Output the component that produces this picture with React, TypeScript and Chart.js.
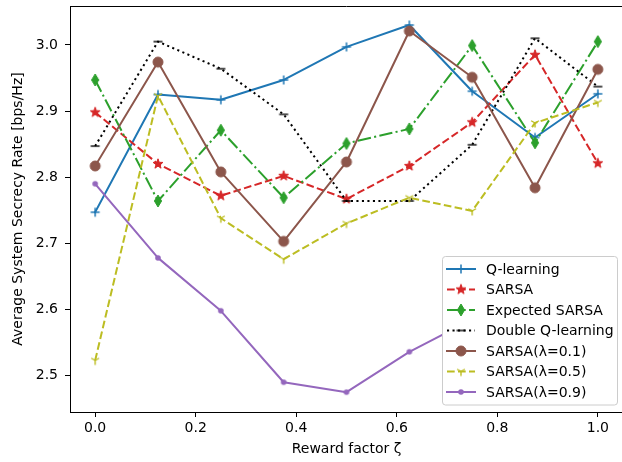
import React, { useEffect, useRef } from "react";
import { Chart, registerables } from "chart.js";

Chart.register(...registerables);

const rewardFactors = [0, 0.125, 0.25, 0.375, 0.5, 0.625, 0.75, 0.875, 1.0];
const qLearning = [2.747, 2.925, 2.917, 2.947, 2.997, 3.030, 2.930, 2.860, 2.926];
const sarsa = [2.898, 2.820, 2.772, 2.802, 2.767, 2.817, 2.883, 2.985, 2.821];
const expectedSarsa = [2.947, 2.764, 2.871, 2.769, 2.851, 2.873, 2.999, 2.852, 3.005];
const doubleQ = [2.847, 3.005, 2.964, 2.895, 2.764, 2.764, 2.849, 3.010, 2.937];
const sarsaL01 = [2.817, 2.974, 2.808, 2.703, 2.823, 3.021, 2.951, 2.784, 2.963];
const sarsaL05 = [2.523, 2.923, 2.738, 2.676, 2.730, 2.769, 2.749, 2.882, 2.913];
const sarsaL09 = [2.790, 2.678, 2.598, 2.490, 2.475, 2.536, 2.585, 2.610, 2.630];

const seriesNames = [
  "Q-learning",
  "SARSA",
  "Expected SARSA",
  "Double Q-learning",
  "SARSA(λ=0.1)",
  "SARSA(λ=0.5)",
  "SARSA(λ=0.9)",
];
const yTickValues = [2.5, 2.6, 2.7, 2.8, 2.9, 3.0];
const xTickValues = [0, 0.2, 0.4, 0.6, 0.8, 1.0];

const FONT = "'DejaVu Sans', sans-serif";
const CW = 632;
const CH = 462;

function makeMarker(draw: (ctx: CanvasRenderingContext2D) => void) {
  const c = document.createElement("canvas");
  c.width = 20;
  c.height = 20;
  const ctx = c.getContext("2d")!;
  ctx.translate(10, 10);
  draw(ctx);
  return c;
}

function buildMarkers() {
  const plus = makeMarker((ctx) => {
    ctx.strokeStyle = "#1f77b4";
    ctx.lineWidth = 1.5;
    ctx.beginPath();
    ctx.moveTo(-4.5, 0);
    ctx.lineTo(4.5, 0);
    ctx.moveTo(0, -4.5);
    ctx.lineTo(0, 4.5);
    ctx.stroke();
  });
  const star = makeMarker((ctx) => {
    ctx.fillStyle = "#d62728";
    ctx.strokeStyle = "#d62728";
    ctx.lineWidth = 1;
    ctx.beginPath();
    for (let i = 0; i < 10; i++) {
      const r = i % 2 === 0 ? 5.2 : 2.1;
      const a = -Math.PI / 2 + (i * Math.PI) / 5;
      const px = r * Math.cos(a);
      const py = r * Math.sin(a);
      if (i === 0) ctx.moveTo(px, py);
      else ctx.lineTo(px, py);
    }
    ctx.closePath();
    ctx.fill();
    ctx.stroke();
  });
  const diamond = makeMarker((ctx) => {
    ctx.fillStyle = "#2ca02c";
    ctx.strokeStyle = "#2ca02c";
    ctx.lineWidth = 1;
    ctx.beginPath();
    ctx.moveTo(0, -6);
    ctx.lineTo(3.6, 0);
    ctx.lineTo(0, 6);
    ctx.lineTo(-3.6, 0);
    ctx.closePath();
    ctx.fill();
    ctx.stroke();
  });
  const hline = makeMarker((ctx) => {
    ctx.strokeStyle = "#000000";
    ctx.lineWidth = 1.4;
    ctx.beginPath();
    ctx.moveTo(-4.5, 0);
    ctx.lineTo(4.5, 0);
    ctx.stroke();
  });
  const circle = makeMarker((ctx) => {
    ctx.fillStyle = "#8c564b";
    ctx.strokeStyle = "#8c564b";
    ctx.lineWidth = 1;
    ctx.beginPath();
    ctx.arc(0, 0, 5, 0, Math.PI * 2);
    ctx.fill();
    ctx.stroke();
  });
  const triDown = makeMarker((ctx) => {
    ctx.strokeStyle = "#bcbd22";
    ctx.lineWidth = 1.4;
    ctx.beginPath();
    ctx.moveTo(0, 0);
    ctx.lineTo(0, 4.5);
    ctx.moveTo(0, 0);
    ctx.lineTo(-3.9, -2.25);
    ctx.moveTo(0, 0);
    ctx.lineTo(3.9, -2.25);
    ctx.stroke();
  });
  const dot = makeMarker((ctx) => {
    ctx.fillStyle = "#9467bd";
    ctx.beginPath();
    ctx.arc(0, 0, 2.8, 0, Math.PI * 2);
    ctx.fill();
  });
  return [plus, star, diamond, hline, circle, triDown, dot];
}

export default function App() {
  const ref = useRef<HTMLCanvasElement | null>(null);

  useEffect(() => {
    document.body.style.margin = "0";
    document.body.style.overflow = "hidden";
    const markers = buildMarkers();
    const allValues = [qLearning, sarsa, expectedSarsa, doubleQ, sarsaL01, sarsaL05, sarsaL09];
    const colors = ["#1f77b4", "#d62728", "#2ca02c", "#000000", "#8c564b", "#bcbd22", "#9467bd"];
    const dashes: number[][] = [
      [],
      [7.7, 3.3],
      [13.3, 3.3, 2.1, 3.3],
      [2.1, 3.4],
      [],
      [7.7, 3.3],
      [],
    ];

    const datasets = allValues.map((vals, i) => ({
      label: seriesNames[i],
      data: vals.map((v, j) => ({ x: rewardFactors[j], y: v })),
      borderColor: colors[i],
      backgroundColor: colors[i],
      borderWidth: 2,
      borderDash: dashes[i],
      borderCapStyle: dashes[i].length ? "butt" : "square",
      borderJoinStyle: "round",
      pointStyle: markers[i],
      pointRadius: 4,
      pointHoverRadius: 4,
      tension: 0,
      order: 10 - i,
      clip: 2,
    }));

    const framePlugin = {
      id: "frameAndLegend",
      afterDraw(chart: any) {
        const { ctx, chartArea } = chart;
        ctx.save();
        ctx.strokeStyle = "#000";
        ctx.lineWidth = 1;
        ctx.beginPath();
        ctx.moveTo(chartArea.left, chartArea.top + 0.5);
        ctx.lineTo(chartArea.right, chartArea.top + 0.5);
        ctx.lineTo(chartArea.right - 0.5, chartArea.bottom);
        ctx.stroke();

        // legend
        const bx = 442.5;
        const by = 256.5;
        const bw = 175;
        const bh = 148.5;
        const r = 3;
        ctx.beginPath();
        ctx.moveTo(bx + r, by);
        ctx.lineTo(bx + bw - r, by);
        ctx.arcTo(bx + bw, by, bx + bw, by + r, r);
        ctx.lineTo(bx + bw, by + bh - r);
        ctx.arcTo(bx + bw, by + bh, bx + bw - r, by + bh, r);
        ctx.lineTo(bx + r, by + bh);
        ctx.arcTo(bx, by + bh, bx, by + bh - r, r);
        ctx.lineTo(bx, by + r);
        ctx.arcTo(bx, by, bx + r, by, r);
        ctx.closePath();
        ctx.fillStyle = "#ffffff";
        ctx.fill();
        ctx.strokeStyle = "#cccccc";
        ctx.lineWidth = 1;
        ctx.stroke();

        ctx.font = "14px " + FONT;
        ctx.textBaseline = "middle";
        ctx.textAlign = "left";
        for (let i = 0; i < seriesNames.length; i++) {
          const y = 269 + i * 20.5;
          ctx.save();
          ctx.strokeStyle = colors[i];
          ctx.lineWidth = 2;
          ctx.setLineDash(dashes[i]);
          ctx.lineCap = dashes[i].length ? "butt" : "square";
          ctx.beginPath();
          ctx.moveTo(447, y);
          ctx.lineTo(475, y);
          ctx.stroke();
          ctx.restore();
          ctx.drawImage(markers[i], 461 - 10, y - 10);
          ctx.fillStyle = "#000";
          ctx.fillText(seriesNames[i], 486, y + 1);
        }
        ctx.restore();
      },
    };

    const chart = new Chart(ref.current!, {
      type: "line",
      data: { datasets: datasets as any },
      plugins: [framePlugin],
      options: {
        animation: false,
        responsive: false,
        devicePixelRatio: 1,
        layout: { padding: { left: 0, top: 5, right: CW - 623, bottom: 0 } },
        plugins: { legend: { display: false }, tooltip: { enabled: false } },
        scales: {
          x: {
            type: "linear",
            min: -0.05,
            max: 1.05,
            afterBuildTicks(scale: any) {
              scale.ticks = xTickValues.map((v) => ({ value: v }));
            },
            afterFit(scale: any) {
              scale.height = 50;
              scale.paddingLeft = 0;
              scale.paddingRight = 0;
            },
            grid: {
              display: true,
              drawOnChartArea: false,
              drawTicks: true,
              tickLength: 5,
              tickColor: "#000",
              tickWidth: 1,
            },
            border: { display: true, color: "#000", width: 1 },
            ticks: {
              color: "#000",
              padding: 3,
              maxRotation: 0,
              font: { family: FONT, size: 14 },
              callback: (v: any) => Number(v).toFixed(1),
            },
            title: {
              display: true,
              text: "Reward factor ζ",
              color: "#000",
              font: { family: FONT, size: 14 },
              padding: { top: 0, bottom: 4 },
            },
          },
          y: {
            type: "linear",
            min: 2.445,
            max: 3.0588,
            afterBuildTicks(scale: any) {
              scale.ticks = yTickValues.map((v) => ({ value: v }));
            },
            afterFit(scale: any) {
              scale.width = 70;
              scale.paddingTop = 0;
              scale.paddingBottom = 0;
            },
            grid: {
              display: true,
              drawOnChartArea: false,
              drawTicks: true,
              tickLength: 5,
              tickColor: "#000",
              tickWidth: 1,
            },
            border: { display: true, color: "#000", width: 1 },
            ticks: {
              color: "#000",
              padding: 7,
              font: { family: FONT, size: 14 },
              callback: (v: any) => Number(v).toFixed(1),
            },
            title: {
              display: true,
              text: "Average System Secrecy Rate [bps/Hz]",
              color: "#000",
              font: { family: FONT, size: 14 },
              padding: { top: 10, bottom: 0 },
            },
          },
        },
      },
    });
    return () => chart.destroy();
  }, []);

  return (
    <div style={{ position: "fixed", left: 0, top: 0, width: CW, height: CH }}>
      <canvas ref={ref} width={CW} height={CH} style={{ width: CW, height: CH, display: "block" }} />
    </div>
  );
}
